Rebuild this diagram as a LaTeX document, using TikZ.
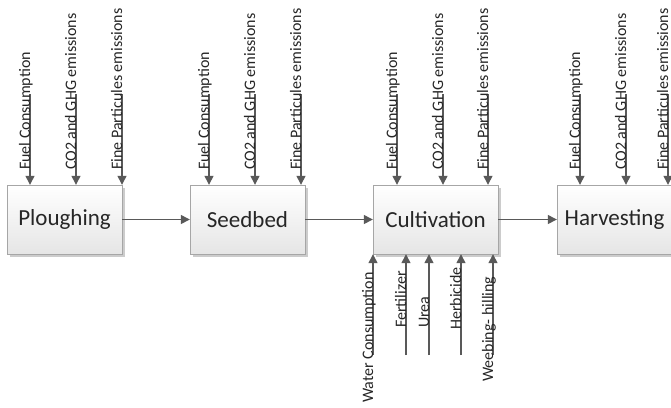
\documentclass[tikz,border=0pt]{standalone}
\usepackage{fontspec}
\setmainfont{Carlito}
\usetikzlibrary{arrows.meta,shadows}
\definecolor{linegray}{HTML}{595959}
\definecolor{boxline}{HTML}{A6A6A6}
\definecolor{txtgray}{HTML}{262626}

\begin{document}
\begin{tikzpicture}[x=1pt, y=1pt,
    stage/.style={draw=boxline, top color=white, bottom color=black!10,
        minimum width=115pt, minimum height=69pt, inner sep=0pt,
        font=\fontsize{23}{25}\selectfont, text=txtgray,
        drop shadow={shadow xshift=3pt, shadow yshift=-3pt, fill=black!20, opacity=1}},
    flow/.style={linegray, line width=1.3pt, -{Triangle[width=9pt,length=9pt]}},
    intext/.style={rotate=90, anchor=base west, inner sep=0pt,
        font=\fontsize{16}{18}\selectfont, text=txtgray}]
    \useasboundingbox (0,0) rectangle (671,-407);
    \clip (0,0) rectangle (671,-407);
    % stages
    \node[stage] (plough) at (64.5,-219.5) {Ploughing};
    \node[stage] (seedbed) at (247.5,-219.5) {Seedbed};
    \node[stage, minimum width=125pt] (cultiv) at (435.5,-219.5) {Cultivation};
    \node[stage] (harvest) at (614.5,-219.5) {Harvesting};
    \draw[flow] (plough.east) -- (seedbed.west);
    \draw[flow] (seedbed.east) -- (cultiv.west);
    \draw[flow] (cultiv.east) -- (harvest.west);
    % inputs and outputs on top
    \coordinate (pfuel) at (30,-94);
    \coordinate (pco) at (76,-94);
    \coordinate (pfine) at (122,-94);
    \draw[flow] (pfuel) -- (pfuel |- plough.north);
    \draw[flow] (pco) -- (pco |- plough.north);
    \draw[flow] (pfine) -- (pfine |- plough.north);
    \node[intext] (pfuelt) at (30,-170) {Fuel Consumption};
    \node[intext] (pcot) at (76,-170) {CO2 and GHG emissions};
    \node[intext] (pfinet) at (122,-170) {Fine Particules emissions};
    \coordinate (sfuel) at (209,-94);
    \coordinate (sco) at (255,-94);
    \coordinate (sfine) at (301,-94);
    \draw[flow] (sfuel) -- (sfuel |- seedbed.north);
    \draw[flow] (sco) -- (sco |- seedbed.north);
    \draw[flow] (sfine) -- (sfine |- seedbed.north);
    \node[intext] (sfuelt) at (209,-170) {Fuel Consumption};
    \node[intext] (scot) at (255,-170) {CO2 and GHG emissions};
    \node[intext] (sfinet) at (301,-170) {Fine Particules emissions};
    \coordinate (cfuel) at (397,-94);
    \coordinate (cco) at (443,-94);
    \coordinate (cfine) at (488,-94);
    \draw[flow] (cfuel) -- (cfuel |- cultiv.north);
    \draw[flow] (cco) -- (cco |- cultiv.north);
    \draw[flow] (cfine) -- (cfine |- cultiv.north);
    \node[intext] (cfuelt) at (397,-170) {Fuel Consumption};
    \node[intext] (ccot) at (443,-170) {CO2 and GHG emissions};
    \node[intext] (cfinet) at (488,-170) {Fine Particules emissions};
    \coordinate (hfuel) at (580,-94);
    \coordinate (hco) at (626,-94);
    \coordinate (hfine) at (668,-94);
    \draw[flow] (hfuel) -- (hfuel |- harvest.north);
    \draw[flow] (hco) -- (hco |- harvest.north);
    \draw[flow] (hfine) -- (hfine |- harvest.north);
    \node[intext] (hfuelt) at (580,-170) {Fuel Consumption};
    \node[intext] (hcot) at (626,-170) {CO2 and GHG emissions};
    \node[intext] (hfinet) at (668,-170) {Fine Particules emissions};
    % inputs of cultivation from below
    \coordinate (water) at (373,-355);
    \coordinate (fert) at (406,-355);
    \coordinate (urea) at (429,-355);
    \coordinate (herb) at (461,-355);
    \coordinate (weed) at (493,-355);
    \draw[flow] (water) -- (water |- cultiv.south);
    \draw[flow] (fert) -- (fert |- cultiv.south);
    \draw[flow] (urea) -- (urea |- cultiv.south);
    \draw[flow] (herb) -- (herb |- cultiv.south);
    \draw[flow] (weed) -- (weed |- cultiv.south);
    \node[intext] (watert) at (373,-403) {Water Consumption};
    \node[intext] (fertt) at (406,-328) {Fertilizer};
    \node[intext] (ureat) at (429,-328) {Urea};
    \node[intext] (herbt) at (461,-330) {Herbicide};
    \node[intext] (weedt) at (493,-382) {Weebing- hilling};
\end{tikzpicture}
\end{document}
